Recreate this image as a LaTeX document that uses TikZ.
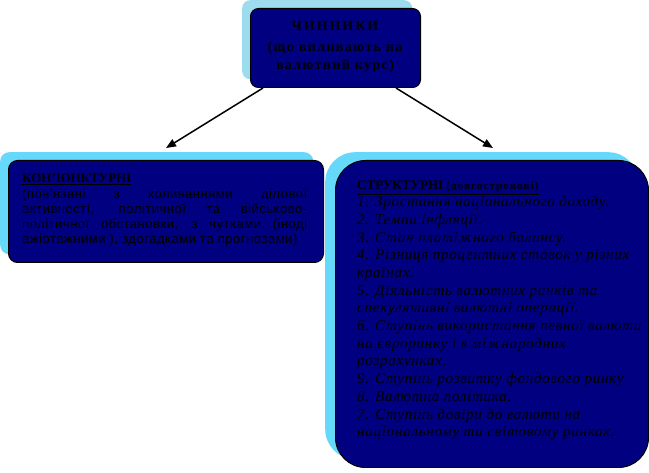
\documentclass[tikz,border=0pt]{standalone}
\usepackage{fontspec}
\setmainfont{Liberation Serif}
\newfontfamily\sansf[LetterSpace=4]{Liberation Sans}
\newfontfamily\spacedbold[LetterSpace=10]{Liberation Serif Bold}
\newfontfamily\headbold[LetterSpace=14]{Liberation Serif Bold}
\newfontfamily\spit[LetterSpace=5]{Liberation Serif Italic}
\usetikzlibrary{arrows.meta}
\definecolor{navyfill}{HTML}{000080}
\definecolor{shtop}{HTML}{9CDCEE}
\definecolor{shside}{HTML}{66D8FA}
\begin{document}
\begin{tikzpicture}[x=1pt,y=-1pt,
  mainbox/.style={draw=black, line width=1pt, fill=navyfill, anchor=north west, inner sep=0pt},
  shadowbox/.style={fill=#1, draw=none, anchor=north west, inner sep=0pt},
  arr/.style={-{Triangle[length=10pt,width=8pt]}, line width=1.5pt, black},
  topt/.style={anchor=base, inner sep=0pt, font=\spacedbold\fontsize{14}{14}\selectfont},
  ritem/.style={anchor=base west, inner sep=0pt, font=\spit\fontsize{15}{15}\selectfont},
  litem/.style={anchor=base west, inner sep=0pt, font=\sansf\fontsize{13}{13}\selectfont}]
\useasboundingbox (0,0) rectangle (649,473);
% shadows
\node[shadowbox=shtop, rounded corners=8pt, minimum width=170pt, minimum height=79pt] (topsh) at (242,0) {};
\node[shadowbox=shside, rounded corners=9pt, minimum width=313pt, minimum height=102pt] (leftsh) at (0,152) {};
\node[shadowbox=shside, rounded corners=30pt, minimum width=313pt, minimum height=307pt] (rightsh) at (325,152) {};
% main boxes
\node[mainbox, rounded corners=8pt, minimum width=170pt, minimum height=79pt] (top) at (250,8) {};
\node[mainbox, rounded corners=9pt, minimum width=315pt, minimum height=102pt] (left) at (8,160) {};
\node[mainbox, rounded corners=30pt, minimum width=313pt, minimum height=307pt] (right) at (335,160) {};
% top text
\node[topt, font=\headbold\fontsize{14}{14}\selectfont] (t1) at (335,31) {ЧИННИКИ};
\node[topt] (t2) at (335,52) {(що впливають на};
\node[topt] (t3) at (335,69.5) {валютний курс)};
% arrows
\coordinate (e1) at (166,148);
\coordinate (e2) at (493,148);
\draw[arr] (top.south west) ++(13,0) coordinate (s1) -- (e1);
\draw[arr] (top.south east) ++(-25,0) coordinate (s2) -- (e2);
% left text
\node[anchor=base west, inner sep=0pt, font=\bfseries\fontsize{13}{13}\selectfont] (lh) at (22,183) {\underline{КОН’ЮНКТУРНІ}};
\node[litem] (l1) at (22,198.5) {\makebox[285pt][s]{(пов’язані з коливаннями ділової}};
\node[litem] (l2) at (22,214) {\makebox[285pt][s]{активності, політичної та військово-}};
\node[litem] (l3) at (22,229) {\makebox[285pt][s]{політичної обстановки, з чутками (іноді}};
\node[litem] (l4) at (22,244) {ажіотажними ), здогадками та прогнозами)};
% right text
\node[anchor=base west, inner sep=0pt] (rh) at (357,190) {\underline{{\bfseries\fontsize{13}{13}\selectfont СТРУКТУРНІ }{\spacedbold\fontsize{11}{11}\selectfont(довгострокові)}}};
\foreach \t [count=\i] in {{1. Зростання національного доходу.},{2. Темпи інфляції.},{3. Стан платіжного балансу.},{4. Різниця процентних ставок у різних},{країнах.},{5. Діяльність валютних ринків та},{спекулятивні валютні операції.},{6. Ступінь використання певної валюти},{на євроринку і в міжнародних},{розрахунках.},{9. Ступінь розвитку фондового ринку},{8. Валютна політика.},{7. Ступінь довіри до валюти на},{національному та світовому ринках.}}
  \node[ritem] (r\i) at (357,{189+17.7*\i}) {\t};
\end{tikzpicture}
\end{document}
